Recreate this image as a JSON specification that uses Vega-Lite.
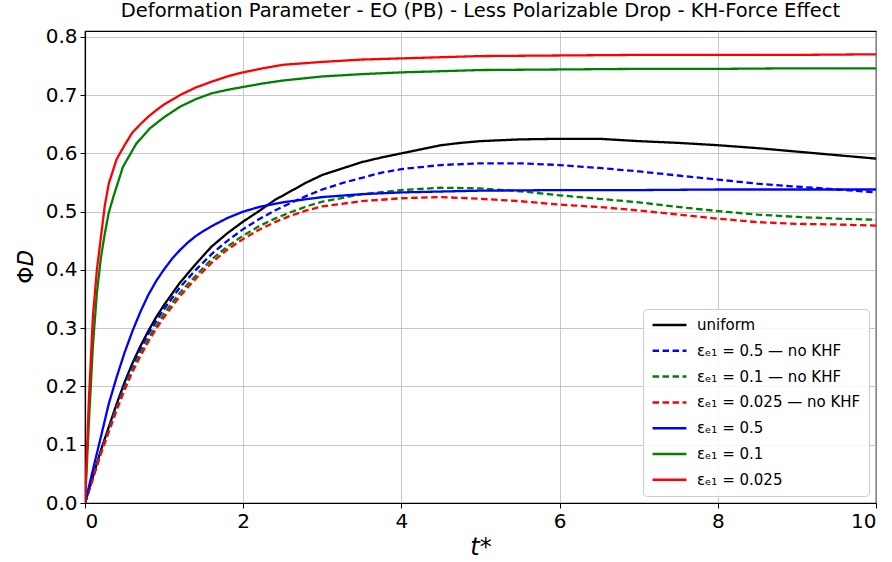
{
  "$schema": "https://vega.github.io/schema/vega-lite/v6.json",
  "autosize": {"type": "none"},
  "padding": {"left": 85, "top": 31, "right": 16, "bottom": 59},
  "width": 791,
  "height": 472,
  "background": "white",
  "title": {
    "text": "Deformation Parameter - EO (PB) - Less Polarizable Drop - KH-Force Effect",
    "font": "DejaVu Sans",
    "fontSize": 19.5,
    "fontWeight": "normal",
    "color": "black",
    "anchor": "middle",
    "offset": 5
  },
  "config": {
    "view": {"stroke": "black", "strokeWidth": 1.2},
    "font": "DejaVu Sans",
    "axis": {
      "grid": true,
      "gridColor": "#b0b0b0",
      "gridOpacity": 0.7,
      "gridWidth": 1,
      "domainColor": "black",
      "domainWidth": 1.2,
      "tickColor": "black",
      "tickSize": 5,
      "tickWidth": 1,
      "labelFont": "DejaVu Sans",
      "labelFontSize": 20,
      "labelColor": "black",
      "labelPadding": 3,
      "titleFont": "DejaVu Sans",
      "titleColor": "black",
      "titleFontWeight": "normal"
    },
    "legend": {
      "orient": "bottom-right",
      "offset": 7,
      "fillColor": "rgba(255,255,255,0.85)",
      "strokeColor": "#cccccc",
      "cornerRadius": 4,
      "padding": 8,
      "labelFont": "DejaVu Sans",
      "labelFontSize": 15,
      "labelColor": "black",
      "symbolType": "stroke",
      "symbolSize": 1150,
      "symbolStrokeWidth": 2.5,
      "clipHeight": 16,
      "rowPadding": 9.8,
      "labelOffset": 9,
      "labelLimit": 300,
      "title": null
    }
  },
  "data": {
    "values": [
      {"t": 0, "phi": 0, "s": "uniform"},
      {"t": 0.1, "phi": 0.045, "s": "uniform"},
      {"t": 0.2, "phi": 0.09, "s": "uniform"},
      {"t": 0.3, "phi": 0.13, "s": "uniform"},
      {"t": 0.4, "phi": 0.17, "s": "uniform"},
      {"t": 0.5, "phi": 0.207, "s": "uniform"},
      {"t": 0.6, "phi": 0.24, "s": "uniform"},
      {"t": 0.7, "phi": 0.269, "s": "uniform"},
      {"t": 0.8, "phi": 0.295, "s": "uniform"},
      {"t": 0.9, "phi": 0.319, "s": "uniform"},
      {"t": 1.0, "phi": 0.34, "s": "uniform"},
      {"t": 1.2, "phi": 0.378, "s": "uniform"},
      {"t": 1.4, "phi": 0.41, "s": "uniform"},
      {"t": 1.6, "phi": 0.44, "s": "uniform"},
      {"t": 1.8, "phi": 0.463, "s": "uniform"},
      {"t": 2.0, "phi": 0.483, "s": "uniform"},
      {"t": 2.2, "phi": 0.501, "s": "uniform"},
      {"t": 2.4, "phi": 0.52, "s": "uniform"},
      {"t": 2.6, "phi": 0.535, "s": "uniform"},
      {"t": 2.8, "phi": 0.55, "s": "uniform"},
      {"t": 3.0, "phi": 0.563, "s": "uniform"},
      {"t": 3.25, "phi": 0.574, "s": "uniform"},
      {"t": 3.5, "phi": 0.585, "s": "uniform"},
      {"t": 3.75, "phi": 0.593, "s": "uniform"},
      {"t": 4.0, "phi": 0.6, "s": "uniform"},
      {"t": 4.25, "phi": 0.607, "s": "uniform"},
      {"t": 4.5, "phi": 0.614, "s": "uniform"},
      {"t": 4.75, "phi": 0.618, "s": "uniform"},
      {"t": 5.0, "phi": 0.621, "s": "uniform"},
      {"t": 5.5, "phi": 0.624, "s": "uniform"},
      {"t": 6.0, "phi": 0.625, "s": "uniform"},
      {"t": 6.5, "phi": 0.625, "s": "uniform"},
      {"t": 7.0, "phi": 0.621, "s": "uniform"},
      {"t": 7.5, "phi": 0.618, "s": "uniform"},
      {"t": 8.0, "phi": 0.614, "s": "uniform"},
      {"t": 8.5, "phi": 0.609, "s": "uniform"},
      {"t": 9.0, "phi": 0.603, "s": "uniform"},
      {"t": 9.5, "phi": 0.597, "s": "uniform"},
      {"t": 10.0, "phi": 0.591, "s": "uniform"},

      {"t": 0, "phi": 0, "s": "εₑ₁ = 0.5 — no KHF"},
      {"t": 0.1, "phi": 0.044, "s": "εₑ₁ = 0.5 — no KHF"},
      {"t": 0.2, "phi": 0.088, "s": "εₑ₁ = 0.5 — no KHF"},
      {"t": 0.3, "phi": 0.128, "s": "εₑ₁ = 0.5 — no KHF"},
      {"t": 0.4, "phi": 0.167, "s": "εₑ₁ = 0.5 — no KHF"},
      {"t": 0.5, "phi": 0.203, "s": "εₑ₁ = 0.5 — no KHF"},
      {"t": 0.6, "phi": 0.236, "s": "εₑ₁ = 0.5 — no KHF"},
      {"t": 0.7, "phi": 0.264, "s": "εₑ₁ = 0.5 — no KHF"},
      {"t": 0.8, "phi": 0.29, "s": "εₑ₁ = 0.5 — no KHF"},
      {"t": 0.9, "phi": 0.312, "s": "εₑ₁ = 0.5 — no KHF"},
      {"t": 1.0, "phi": 0.333, "s": "εₑ₁ = 0.5 — no KHF"},
      {"t": 1.2, "phi": 0.37, "s": "εₑ₁ = 0.5 — no KHF"},
      {"t": 1.4, "phi": 0.4, "s": "εₑ₁ = 0.5 — no KHF"},
      {"t": 1.6, "phi": 0.427, "s": "εₑ₁ = 0.5 — no KHF"},
      {"t": 1.8, "phi": 0.45, "s": "εₑ₁ = 0.5 — no KHF"},
      {"t": 2.0, "phi": 0.47, "s": "εₑ₁ = 0.5 — no KHF"},
      {"t": 2.2, "phi": 0.487, "s": "εₑ₁ = 0.5 — no KHF"},
      {"t": 2.4, "phi": 0.502, "s": "εₑ₁ = 0.5 — no KHF"},
      {"t": 2.6, "phi": 0.515, "s": "εₑ₁ = 0.5 — no KHF"},
      {"t": 2.8, "phi": 0.527, "s": "εₑ₁ = 0.5 — no KHF"},
      {"t": 3.0, "phi": 0.538, "s": "εₑ₁ = 0.5 — no KHF"},
      {"t": 3.25, "phi": 0.549, "s": "εₑ₁ = 0.5 — no KHF"},
      {"t": 3.5, "phi": 0.558, "s": "εₑ₁ = 0.5 — no KHF"},
      {"t": 3.75, "phi": 0.567, "s": "εₑ₁ = 0.5 — no KHF"},
      {"t": 4.0, "phi": 0.573, "s": "εₑ₁ = 0.5 — no KHF"},
      {"t": 4.5, "phi": 0.58, "s": "εₑ₁ = 0.5 — no KHF"},
      {"t": 5.0, "phi": 0.583, "s": "εₑ₁ = 0.5 — no KHF"},
      {"t": 5.5, "phi": 0.583, "s": "εₑ₁ = 0.5 — no KHF"},
      {"t": 6.0, "phi": 0.58, "s": "εₑ₁ = 0.5 — no KHF"},
      {"t": 6.5, "phi": 0.575, "s": "εₑ₁ = 0.5 — no KHF"},
      {"t": 7.0, "phi": 0.569, "s": "εₑ₁ = 0.5 — no KHF"},
      {"t": 7.5, "phi": 0.562, "s": "εₑ₁ = 0.5 — no KHF"},
      {"t": 8.0, "phi": 0.555, "s": "εₑ₁ = 0.5 — no KHF"},
      {"t": 8.5, "phi": 0.548, "s": "εₑ₁ = 0.5 — no KHF"},
      {"t": 9.0, "phi": 0.543, "s": "εₑ₁ = 0.5 — no KHF"},
      {"t": 9.5, "phi": 0.538, "s": "εₑ₁ = 0.5 — no KHF"},
      {"t": 10.0, "phi": 0.533, "s": "εₑ₁ = 0.5 — no KHF"},

      {"t": 0, "phi": 0, "s": "εₑ₁ = 0.1 — no KHF"},
      {"t": 0.1, "phi": 0.043, "s": "εₑ₁ = 0.1 — no KHF"},
      {"t": 0.2, "phi": 0.086, "s": "εₑ₁ = 0.1 — no KHF"},
      {"t": 0.3, "phi": 0.125, "s": "εₑ₁ = 0.1 — no KHF"},
      {"t": 0.4, "phi": 0.163, "s": "εₑ₁ = 0.1 — no KHF"},
      {"t": 0.5, "phi": 0.198, "s": "εₑ₁ = 0.1 — no KHF"},
      {"t": 0.6, "phi": 0.23, "s": "εₑ₁ = 0.1 — no KHF"},
      {"t": 0.7, "phi": 0.257, "s": "εₑ₁ = 0.1 — no KHF"},
      {"t": 0.8, "phi": 0.282, "s": "εₑ₁ = 0.1 — no KHF"},
      {"t": 0.9, "phi": 0.304, "s": "εₑ₁ = 0.1 — no KHF"},
      {"t": 1.0, "phi": 0.325, "s": "εₑ₁ = 0.1 — no KHF"},
      {"t": 1.2, "phi": 0.361, "s": "εₑ₁ = 0.1 — no KHF"},
      {"t": 1.4, "phi": 0.39, "s": "εₑ₁ = 0.1 — no KHF"},
      {"t": 1.6, "phi": 0.418, "s": "εₑ₁ = 0.1 — no KHF"},
      {"t": 1.8, "phi": 0.44, "s": "εₑ₁ = 0.1 — no KHF"},
      {"t": 2.0, "phi": 0.459, "s": "εₑ₁ = 0.1 — no KHF"},
      {"t": 2.2, "phi": 0.475, "s": "εₑ₁ = 0.1 — no KHF"},
      {"t": 2.4, "phi": 0.488, "s": "εₑ₁ = 0.1 — no KHF"},
      {"t": 2.6, "phi": 0.499, "s": "εₑ₁ = 0.1 — no KHF"},
      {"t": 2.8, "phi": 0.509, "s": "εₑ₁ = 0.1 — no KHF"},
      {"t": 3.0, "phi": 0.517, "s": "εₑ₁ = 0.1 — no KHF"},
      {"t": 3.5, "phi": 0.53, "s": "εₑ₁ = 0.1 — no KHF"},
      {"t": 4.0, "phi": 0.537, "s": "εₑ₁ = 0.1 — no KHF"},
      {"t": 4.5, "phi": 0.541, "s": "εₑ₁ = 0.1 — no KHF"},
      {"t": 5.0, "phi": 0.54, "s": "εₑ₁ = 0.1 — no KHF"},
      {"t": 5.5, "phi": 0.535, "s": "εₑ₁ = 0.1 — no KHF"},
      {"t": 6.0, "phi": 0.528, "s": "εₑ₁ = 0.1 — no KHF"},
      {"t": 6.5, "phi": 0.522, "s": "εₑ₁ = 0.1 — no KHF"},
      {"t": 7.0, "phi": 0.516, "s": "εₑ₁ = 0.1 — no KHF"},
      {"t": 7.5, "phi": 0.508, "s": "εₑ₁ = 0.1 — no KHF"},
      {"t": 8.0, "phi": 0.501, "s": "εₑ₁ = 0.1 — no KHF"},
      {"t": 8.5, "phi": 0.495, "s": "εₑ₁ = 0.1 — no KHF"},
      {"t": 9.0, "phi": 0.491, "s": "εₑ₁ = 0.1 — no KHF"},
      {"t": 9.5, "phi": 0.488, "s": "εₑ₁ = 0.1 — no KHF"},
      {"t": 10.0, "phi": 0.486, "s": "εₑ₁ = 0.1 — no KHF"},

      {"t": 0, "phi": 0, "s": "εₑ₁ = 0.025 — no KHF"},
      {"t": 0.1, "phi": 0.042, "s": "εₑ₁ = 0.025 — no KHF"},
      {"t": 0.2, "phi": 0.084, "s": "εₑ₁ = 0.025 — no KHF"},
      {"t": 0.3, "phi": 0.122, "s": "εₑ₁ = 0.025 — no KHF"},
      {"t": 0.4, "phi": 0.159, "s": "εₑ₁ = 0.025 — no KHF"},
      {"t": 0.5, "phi": 0.194, "s": "εₑ₁ = 0.025 — no KHF"},
      {"t": 0.6, "phi": 0.225, "s": "εₑ₁ = 0.025 — no KHF"},
      {"t": 0.7, "phi": 0.252, "s": "εₑ₁ = 0.025 — no KHF"},
      {"t": 0.8, "phi": 0.277, "s": "εₑ₁ = 0.025 — no KHF"},
      {"t": 0.9, "phi": 0.299, "s": "εₑ₁ = 0.025 — no KHF"},
      {"t": 1.0, "phi": 0.319, "s": "εₑ₁ = 0.025 — no KHF"},
      {"t": 1.2, "phi": 0.355, "s": "εₑ₁ = 0.025 — no KHF"},
      {"t": 1.4, "phi": 0.385, "s": "εₑ₁ = 0.025 — no KHF"},
      {"t": 1.6, "phi": 0.412, "s": "εₑ₁ = 0.025 — no KHF"},
      {"t": 1.8, "phi": 0.435, "s": "εₑ₁ = 0.025 — no KHF"},
      {"t": 2.0, "phi": 0.453, "s": "εₑ₁ = 0.025 — no KHF"},
      {"t": 2.2, "phi": 0.469, "s": "εₑ₁ = 0.025 — no KHF"},
      {"t": 2.4, "phi": 0.482, "s": "εₑ₁ = 0.025 — no KHF"},
      {"t": 2.6, "phi": 0.493, "s": "εₑ₁ = 0.025 — no KHF"},
      {"t": 2.8, "phi": 0.502, "s": "εₑ₁ = 0.025 — no KHF"},
      {"t": 3.0, "phi": 0.509, "s": "εₑ₁ = 0.025 — no KHF"},
      {"t": 3.5, "phi": 0.518, "s": "εₑ₁ = 0.025 — no KHF"},
      {"t": 4.0, "phi": 0.523, "s": "εₑ₁ = 0.025 — no KHF"},
      {"t": 4.5, "phi": 0.525, "s": "εₑ₁ = 0.025 — no KHF"},
      {"t": 5.0, "phi": 0.522, "s": "εₑ₁ = 0.025 — no KHF"},
      {"t": 5.5, "phi": 0.518, "s": "εₑ₁ = 0.025 — no KHF"},
      {"t": 6.0, "phi": 0.512, "s": "εₑ₁ = 0.025 — no KHF"},
      {"t": 6.5, "phi": 0.508, "s": "εₑ₁ = 0.025 — no KHF"},
      {"t": 7.0, "phi": 0.502, "s": "εₑ₁ = 0.025 — no KHF"},
      {"t": 7.5, "phi": 0.495, "s": "εₑ₁ = 0.025 — no KHF"},
      {"t": 8.0, "phi": 0.488, "s": "εₑ₁ = 0.025 — no KHF"},
      {"t": 8.5, "phi": 0.482, "s": "εₑ₁ = 0.025 — no KHF"},
      {"t": 9.0, "phi": 0.479, "s": "εₑ₁ = 0.025 — no KHF"},
      {"t": 9.5, "phi": 0.478, "s": "εₑ₁ = 0.025 — no KHF"},
      {"t": 10.0, "phi": 0.476, "s": "εₑ₁ = 0.025 — no KHF"},

      {"t": 0, "phi": 0, "s": "εₑ₁ = 0.5"},
      {"t": 0.1, "phi": 0.057, "s": "εₑ₁ = 0.5"},
      {"t": 0.2, "phi": 0.113, "s": "εₑ₁ = 0.5"},
      {"t": 0.3, "phi": 0.17, "s": "εₑ₁ = 0.5"},
      {"t": 0.4, "phi": 0.216, "s": "εₑ₁ = 0.5"},
      {"t": 0.5, "phi": 0.258, "s": "εₑ₁ = 0.5"},
      {"t": 0.6, "phi": 0.295, "s": "εₑ₁ = 0.5"},
      {"t": 0.7, "phi": 0.328, "s": "εₑ₁ = 0.5"},
      {"t": 0.8, "phi": 0.357, "s": "εₑ₁ = 0.5"},
      {"t": 0.9, "phi": 0.381, "s": "εₑ₁ = 0.5"},
      {"t": 1.0, "phi": 0.401, "s": "εₑ₁ = 0.5"},
      {"t": 1.1, "phi": 0.419, "s": "εₑ₁ = 0.5"},
      {"t": 1.2, "phi": 0.434, "s": "εₑ₁ = 0.5"},
      {"t": 1.3, "phi": 0.447, "s": "εₑ₁ = 0.5"},
      {"t": 1.4, "phi": 0.458, "s": "εₑ₁ = 0.5"},
      {"t": 1.5, "phi": 0.467, "s": "εₑ₁ = 0.5"},
      {"t": 1.6, "phi": 0.475, "s": "εₑ₁ = 0.5"},
      {"t": 1.8, "phi": 0.489, "s": "εₑ₁ = 0.5"},
      {"t": 2.0, "phi": 0.5, "s": "εₑ₁ = 0.5"},
      {"t": 2.2, "phi": 0.508, "s": "εₑ₁ = 0.5"},
      {"t": 2.5, "phi": 0.516, "s": "εₑ₁ = 0.5"},
      {"t": 3.0, "phi": 0.525, "s": "εₑ₁ = 0.5"},
      {"t": 3.5, "phi": 0.53, "s": "εₑ₁ = 0.5"},
      {"t": 4.0, "phi": 0.533, "s": "εₑ₁ = 0.5"},
      {"t": 5.0, "phi": 0.536, "s": "εₑ₁ = 0.5"},
      {"t": 6.0, "phi": 0.537, "s": "εₑ₁ = 0.5"},
      {"t": 7.0, "phi": 0.537, "s": "εₑ₁ = 0.5"},
      {"t": 8.0, "phi": 0.538, "s": "εₑ₁ = 0.5"},
      {"t": 9.0, "phi": 0.538, "s": "εₑ₁ = 0.5"},
      {"t": 10.0, "phi": 0.538, "s": "εₑ₁ = 0.5"},

      {"t": 0, "phi": 0, "s": "εₑ₁ = 0.1"},
      {"t": 0.05, "phi": 0.14, "s": "εₑ₁ = 0.1"},
      {"t": 0.1, "phi": 0.27, "s": "εₑ₁ = 0.1"},
      {"t": 0.15, "phi": 0.36, "s": "εₑ₁ = 0.1"},
      {"t": 0.2, "phi": 0.42, "s": "εₑ₁ = 0.1"},
      {"t": 0.25, "phi": 0.462, "s": "εₑ₁ = 0.1"},
      {"t": 0.3, "phi": 0.498, "s": "εₑ₁ = 0.1"},
      {"t": 0.36, "phi": 0.526, "s": "εₑ₁ = 0.1"},
      {"t": 0.48, "phi": 0.577, "s": "εₑ₁ = 0.1"},
      {"t": 0.65, "phi": 0.617, "s": "εₑ₁ = 0.1"},
      {"t": 0.82, "phi": 0.643, "s": "εₑ₁ = 0.1"},
      {"t": 1.0, "phi": 0.662, "s": "εₑ₁ = 0.1"},
      {"t": 1.2, "phi": 0.68, "s": "εₑ₁ = 0.1"},
      {"t": 1.4, "phi": 0.693, "s": "εₑ₁ = 0.1"},
      {"t": 1.6, "phi": 0.703, "s": "εₑ₁ = 0.1"},
      {"t": 1.8, "phi": 0.709, "s": "εₑ₁ = 0.1"},
      {"t": 2.0, "phi": 0.714, "s": "εₑ₁ = 0.1"},
      {"t": 2.25, "phi": 0.72, "s": "εₑ₁ = 0.1"},
      {"t": 2.5, "phi": 0.725, "s": "εₑ₁ = 0.1"},
      {"t": 3.0, "phi": 0.732, "s": "εₑ₁ = 0.1"},
      {"t": 3.5, "phi": 0.736, "s": "εₑ₁ = 0.1"},
      {"t": 4.0, "phi": 0.739, "s": "εₑ₁ = 0.1"},
      {"t": 4.5, "phi": 0.741, "s": "εₑ₁ = 0.1"},
      {"t": 5.0, "phi": 0.743, "s": "εₑ₁ = 0.1"},
      {"t": 6.0, "phi": 0.744, "s": "εₑ₁ = 0.1"},
      {"t": 7.0, "phi": 0.745, "s": "εₑ₁ = 0.1"},
      {"t": 8.0, "phi": 0.745, "s": "εₑ₁ = 0.1"},
      {"t": 9.0, "phi": 0.746, "s": "εₑ₁ = 0.1"},
      {"t": 10.0, "phi": 0.746, "s": "εₑ₁ = 0.1"},

      {"t": 0, "phi": 0, "s": "εₑ₁ = 0.025"},
      {"t": 0.05, "phi": 0.18, "s": "εₑ₁ = 0.025"},
      {"t": 0.1, "phi": 0.32, "s": "εₑ₁ = 0.025"},
      {"t": 0.15, "phi": 0.4, "s": "εₑ₁ = 0.025"},
      {"t": 0.2, "phi": 0.455, "s": "εₑ₁ = 0.025"},
      {"t": 0.25, "phi": 0.51, "s": "εₑ₁ = 0.025"},
      {"t": 0.3, "phi": 0.548, "s": "εₑ₁ = 0.025"},
      {"t": 0.4, "phi": 0.59, "s": "εₑ₁ = 0.025"},
      {"t": 0.5, "phi": 0.614, "s": "εₑ₁ = 0.025"},
      {"t": 0.6, "phi": 0.636, "s": "εₑ₁ = 0.025"},
      {"t": 0.7, "phi": 0.65, "s": "εₑ₁ = 0.025"},
      {"t": 0.8, "phi": 0.663, "s": "εₑ₁ = 0.025"},
      {"t": 0.9, "phi": 0.674, "s": "εₑ₁ = 0.025"},
      {"t": 1.0, "phi": 0.684, "s": "εₑ₁ = 0.025"},
      {"t": 1.2, "phi": 0.7, "s": "εₑ₁ = 0.025"},
      {"t": 1.4, "phi": 0.713, "s": "εₑ₁ = 0.025"},
      {"t": 1.6, "phi": 0.723, "s": "εₑ₁ = 0.025"},
      {"t": 1.8, "phi": 0.732, "s": "εₑ₁ = 0.025"},
      {"t": 2.0, "phi": 0.739, "s": "εₑ₁ = 0.025"},
      {"t": 2.25, "phi": 0.746, "s": "εₑ₁ = 0.025"},
      {"t": 2.5, "phi": 0.752, "s": "εₑ₁ = 0.025"},
      {"t": 3.0, "phi": 0.757, "s": "εₑ₁ = 0.025"},
      {"t": 3.5, "phi": 0.761, "s": "εₑ₁ = 0.025"},
      {"t": 4.0, "phi": 0.763, "s": "εₑ₁ = 0.025"},
      {"t": 4.5, "phi": 0.765, "s": "εₑ₁ = 0.025"},
      {"t": 5.0, "phi": 0.767, "s": "εₑ₁ = 0.025"},
      {"t": 6.0, "phi": 0.768, "s": "εₑ₁ = 0.025"},
      {"t": 7.0, "phi": 0.769, "s": "εₑ₁ = 0.025"},
      {"t": 8.0, "phi": 0.769, "s": "εₑ₁ = 0.025"},
      {"t": 9.0, "phi": 0.769, "s": "εₑ₁ = 0.025"},
      {"t": 10.0, "phi": 0.77, "s": "εₑ₁ = 0.025"}
    ]
  },
  "mark": {"type": "line", "strokeWidth": 2.3, "clip": true},
  "encoding": {
    "x": {
      "field": "t",
      "type": "quantitative",
      "scale": {"domain": [0, 10], "nice": false},
      "axis": {"values": [0, 2, 4, 6, 8, 10], "title": "t*", "titleFontSize": 24, "titleFontStyle": "italic", "titlePadding": 4}
    },
    "y": {
      "field": "phi",
      "type": "quantitative",
      "scale": {"domain": [0, 0.81], "nice": false, "zero": false},
      "axis": {"values": [0, 0.1, 0.2, 0.3, 0.4, 0.5, 0.6, 0.7, 0.8], "format": ".1f", "title": "Φ𝐷", "titleFontSize": 22, "titlePadding": 8}
    },
    "color": {
      "field": "s",
      "type": "nominal",
      "scale": {
        "domain": ["uniform", "εₑ₁ = 0.5 — no KHF", "εₑ₁ = 0.1 — no KHF", "εₑ₁ = 0.025 — no KHF", "εₑ₁ = 0.5", "εₑ₁ = 0.1", "εₑ₁ = 0.025"],
        "range": ["#000000", "#0000ff", "#008000", "#ff0000", "#0000ff", "#008000", "#ff0000"]
      }
    },
    "strokeDash": {
      "field": "s",
      "type": "nominal",
      "scale": {
        "domain": ["uniform", "εₑ₁ = 0.5 — no KHF", "εₑ₁ = 0.1 — no KHF", "εₑ₁ = 0.025 — no KHF", "εₑ₁ = 0.5", "εₑ₁ = 0.1", "εₑ₁ = 0.025"],
        "range": [[1, 0], [6.5, 3.5], [6.5, 3.5], [6.5, 3.5], [1, 0], [1, 0], [1, 0]]
      }
    }
  }
}
